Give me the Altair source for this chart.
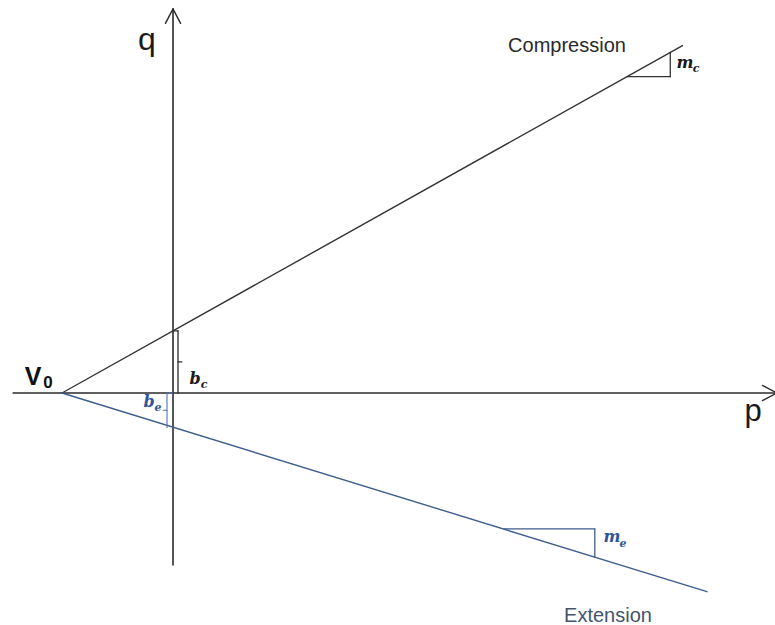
import altair as alt
import pandas as pd

# Geometry of the drawing: one unit of p or q spans PX_PER_UNIT pixels,
# and the origin of the p-q plane sits at (ORIGIN_X, ORIGIN_Y) on the page.
W, H = 775, 625
PX_PER_UNIT = 111.0
ORIGIN_X, ORIGIN_Y = 173, 393

# ---- model values -------------------------------------------------------
v0 = -1.0          # point where both lines meet the p axis
b_c = 0.56         # compression intercept on the q axis
b_e = -0.31        # extension intercept on the q axis

comp_p = [v0, 0.0, 4.59]
comp_q = [0.0, b_c, 3.13]
ext_p = [v0, 0.0, 4.81]
ext_q = [0.0, b_e, -1.79]

# slope triangles (corner points, p / q)
mc_tri_p = [4.09, 4.48, 4.48]
mc_tri_q = [2.85, 2.85, 3.07]
me_tri_p = [2.98, 3.80, 3.80]
me_tri_q = [-1.225, -1.225, -1.48]

# axes and arrow heads
p_axis = [-1.44, 5.44]
q_axis = [-1.55, 3.46]
arrow_len, arrow_half = 0.13, 0.068

# ---- segments -------------------------------------------------------------
AX = "#2b2b2b"
CMP = "#333333"
EXT = "#3f5d8c"
BR = "#4f74b0"

segs = []


def seg(p1, q1, p2, q2, color, w):
    segs.append(dict(p=p1, q=q1, p2=p2, q2=q2, color=color, w=w))


# p axis with arrow
seg(p_axis[0], 0, p_axis[1], 0, AX, 1.6)
seg(p_axis[1], 0, p_axis[1] - arrow_len, arrow_half, AX, 1.4)
seg(p_axis[1], 0, p_axis[1] - arrow_len, -arrow_half, AX, 1.4)
# q axis with arrow
seg(0, q_axis[0], 0, q_axis[1], AX, 1.6)
seg(0, q_axis[1], -arrow_half, q_axis[1] - arrow_len, AX, 1.4)
seg(0, q_axis[1], arrow_half, q_axis[1] - arrow_len, AX, 1.4)

# compression and extension lines
seg(comp_p[0], comp_q[0], comp_p[-1], comp_q[-1], CMP, 1.4)
seg(ext_p[0], ext_q[0], ext_p[-1], ext_q[-1], EXT, 1.4)

# slope triangles
seg(mc_tri_p[0], mc_tri_q[0], mc_tri_p[1], mc_tri_q[1], CMP, 1.3)
seg(mc_tri_p[1], mc_tri_q[1], mc_tri_p[2], mc_tri_q[2], CMP, 1.3)
seg(me_tri_p[0], me_tri_q[0], me_tri_p[1], me_tri_q[1], EXT, 1.3)
seg(me_tri_p[1], me_tri_q[1], me_tri_p[2], me_tri_q[2], EXT, 1.3)

# bracket for b_c (right of the q axis)
bx = 0.045
seg(0, b_c, bx, b_c, AX, 1.3)
seg(bx, 0, bx, b_c, AX, 1.3)
seg(bx, b_c / 2, bx + 0.035, b_c / 2, AX, 1.2)

# bracket for b_e (left of the q axis)
ex = -0.054
seg(ex, 0, 0, 0, BR, 1.1)
seg(ex, 0, ex, b_e, BR, 1.1)
seg(ex, b_e / 2, ex - 0.035, b_e / 2, BR, 1.1)

seg_df = pd.DataFrame(segs)


def px(xp):
    return (xp - ORIGIN_X) / PX_PER_UNIT


def py(yp):
    return (ORIGIN_Y - yp) / PX_PER_UNIT


x_scale = alt.Scale(domain=[px(0), px(W)], nice=False, zero=False)
y_scale = alt.Scale(domain=[py(H), py(0)], nice=False, zero=False)

rules = alt.Chart(seg_df).mark_rule(strokeCap="round").encode(
    x=alt.X("p:Q", scale=x_scale, axis=None),
    y=alt.Y("q:Q", scale=y_scale, axis=None),
    x2="p2:Q",
    y2="q2:Q",
    color=alt.Color("color:N", scale=None),
    strokeWidth=alt.StrokeWidth("w:Q", scale=None),
)

# ---- labels ------------------------------------------------------------------
sans = pd.DataFrame([
    dict(t="q", p=px(147), q=py(50), s=32, c="#1a1a1a"),
    dict(t="p", p=px(753), q=py(421), s=31, c="#1a1a1a"),
    dict(t="Compression", p=px(567), q=py(52), s=20, c="#2a2a2a"),
    dict(t="Extension", p=px(608), q=py(622), s=20, c="#44546a"),
])
bold = pd.DataFrame([
    dict(t="V", p=px(33), q=py(385), s=25, c="#111111"),
    dict(t="0", p=px(48), q=py(388), s=17, c="#111111"),
])
math = pd.DataFrame([
    dict(t="m", p=px(685), q=py(68), s=16, c="#1a1a1a"),
    dict(t="c", p=px(696), q=py(72), s=11, c="#1a1a1a"),
    dict(t="m", p=px(612), q=py(542), s=16, c="#2f5597"),
    dict(t="e", p=px(623), q=py(547), s=11, c="#2f5597"),
    dict(t="b", p=px(195), q=py(384), s=16, c="#1a1a1a"),
    dict(t="c", p=px(204), q=py(388), s=11, c="#1a1a1a"),
    dict(t="b", p=px(149), q=py(407), s=16, c="#2f5597"),
    dict(t="e", p=px(158), q=py(411), s=11, c="#2f5597"),
])


def text_layer(df, **mark_kw):
    return alt.Chart(df).mark_text(align="center", baseline="alphabetic", **mark_kw).encode(
        x=alt.X("p:Q", scale=x_scale, axis=None),
        y=alt.Y("q:Q", scale=y_scale, axis=None),
        text="t:N",
        size=alt.Size("s:Q", scale=None),
        color=alt.Color("c:N", scale=None),
    )


chart = alt.layer(
    rules,
    text_layer(sans, font="Liberation Sans"),
    text_layer(bold, font="Liberation Sans", fontWeight="bold"),
    text_layer(math, font="DejaVu Serif", fontWeight="bold", fontStyle="italic"),
).properties(
    width=W, height=H, padding=0, autosize=alt.AutoSizeParams(type="none"),
    background="white",
).configure_view(stroke=None)

chart.save("out.html", embed_options={"renderer": "svg", "actions": False})
